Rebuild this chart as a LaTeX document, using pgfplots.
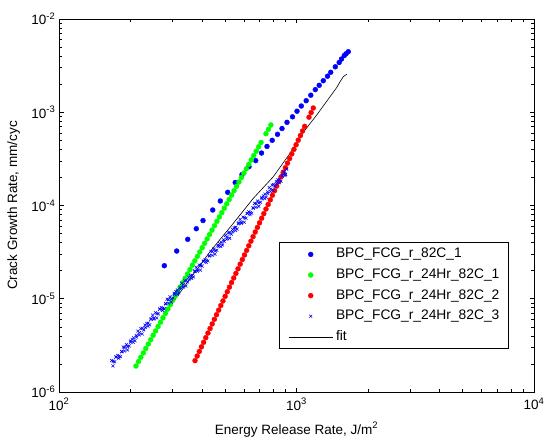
\documentclass[border=0pt]{standalone}
\usepackage{fontspec}
\setmainfont{Liberation Sans}
\usepackage{pgfplots}
\pgfplotsset{compat=1.18}
\pgfplotsset{
  mylegmark/.style={legend image code/.code={\path (0pt,0pt); \draw[mark repeat=2,mark phase=2,##1] plot coordinates {(3pt,0pt) (25pt,0pt) (47pt,0pt)};}},
  myleglin/.style={legend image code/.code={\path (0pt,0pt); \draw[##1] (3pt,0pt) -- (47pt,0pt);}},
}
\begin{document}
\begin{tikzpicture}
\useasboundingbox (0,0) rectangle (544pt,440pt);
\begin{axis}[
  at={(59pt,48pt)}, anchor=south west,
  scale only axis, width=475pt, height=373pt,
  xmode=log, ymode=log,
  xmin=100, xmax=10000, ymin=1e-6, ymax=1e-2,
  xtick={100,1000,10000},
  xticklabels={10\textsuperscript{2},10\textsuperscript{3},10\textsuperscript{4}},
  ytick={1e-6,1e-5,1e-4,1e-3,1e-2},
  yticklabels={10\textsuperscript{-6},10\textsuperscript{-5},10\textsuperscript{-4},10\textsuperscript{-3},10\textsuperscript{-2}},
  minor xtick={200,300,400,500,600,700,800,900,2000,3000,4000,5000,6000,7000,8000,9000},
  minor ytick={2e-6,3e-6,4e-6,5e-6,6e-6,7e-6,8e-6,9e-6,2e-5,3e-5,4e-5,5e-5,6e-5,7e-5,8e-5,9e-5,2e-4,3e-4,4e-4,5e-4,6e-4,7e-4,8e-4,9e-4,2e-3,3e-3,4e-3,5e-3,6e-3,7e-3,8e-3,9e-3},
  tick align=inside, xtick pos=both, ytick pos=both,
  major tick length=4.5pt, minor tick length=3pt,
  tick style={black, line width=0.6pt},
  axis line style={line width=0.8pt},
  tick label style={font=\fontsize{13.5}{16}\selectfont},
  xticklabel style={inner sep=0pt, yshift=-6pt},
  yticklabel style={inner sep=0pt, xshift=-3.5pt},
  xlabel={Energy Release Rate, J/m\textsuperscript{2}},
  ylabel={Crack Growth Rate, mm/cyc},
  label style={font=\fontsize{13.5}{16}\selectfont},
  xlabel style={at={(axis description cs:0.5,-0.1126)}, anchor=base, inner sep=0pt},
  ylabel style={at={(axis description cs:-0.0884,0.5)}, anchor=base, inner sep=0pt},
  legend cell align=left,
  legend style={at={(0.4632,0.4021)}, anchor=north west, draw=black, line width=0.8pt, fill=white,
    inner xsep=6pt, inner ysep=5.5pt, row sep=7.6pt, font=\fontsize{13.8}{16}\selectfont,
    nodes={inner xsep=3pt, inner ysep=0pt, text height=10pt, text depth=3pt}},
]
% BPC_FCG_r_82C_1
\addplot[color=blue, only marks, mark=*, mark size=2.5pt, line width=0.3pt, mylegmark] coordinates {
(277.6,2.262e-5) (313.0,3.25e-5) (348.3,4.34e-5) (378.6,5.64e-5) (404.0,6.90e-5) (443.9,8.95e-5)
(477.8,1.118e-4) (513.3,1.385e-4) (552.0,1.765e-4) (589.5,2.145e-4) (631.0,2.607e-4) (673.3,3.031e-4)
(712.3,3.656e-4) (751.3,4.30e-4) (790.2,5.00e-4) (831.8,5.80e-4) (868.8,6.69e-4) (912.0,7.80e-4)
(962.0,8.94e-4) (1004.9,1.026e-3) (1047.6,1.167e-3) (1098.5,1.330e-3) (1148.6,1.523e-3) (1200.0,1.749e-3)
(1246.2,1.945e-3) (1296.6,2.180e-3) (1350.5,2.435e-3) (1393.2,2.682e-3) (1456.8,3.072e-3) (1512.8,3.416e-3)
(1547,3.724e-3) (1589.7,4.061e-3) (1616,4.235e-3) (1652,4.46e-3)
};
\addlegendentry{BPC\_FCG\_r\_82C\_1}
% BPC_FCG_r_24Hr_82C_1
\addplot[color=green, only marks, mark=*, mark size=2.5pt, line width=0.3pt, mylegmark] coordinates {
(210.9,1.900e-6) (216.0,2.117e-6) (221.2,2.359e-6) (226.5,2.629e-6) (232.0,2.930e-6) (237.6,3.265e-6)
(243.3,3.638e-6) (249.1,4.054e-6) (255.1,4.517e-6) (261.3,5.034e-6) (267.6,5.609e-6) (274.0,6.250e-6)
(280.6,6.965e-6) (287.3,7.761e-6) (294.2,8.648e-6) (301.3,9.637e-6) (308.6,1.0739e-5) (316.0,1.1966e-5)
(323.6,1.3334e-5) (331.4,1.4858e-5) (339.4,1.6557e-5) (347.5,1.8449e-5) (355.9,2.0558e-5) (364.4,2.2908e-5)
(373.2,2.5527e-5) (382.2,2.8445e-5) (391.4,3.1696e-5) (400.8,3.5319e-5) (410.4,3.9357e-5) (420.3,4.3855e-5)
(430.4,4.8869e-5) (440.8,5.4455e-5) (451.4,6.0680e-5) (462.3,6.7616e-5) (473.4,7.5345e-5) (484.8,8.3957e-5)
(496.5,9.3554e-5) (508.4,1.0425e-4) (520.7,1.1617e-4) (533.2,1.2945e-4) (546.0,1.4424e-4) (559.2,1.6073e-4)
(572.6,1.7910e-4) (586.4,1.9958e-4) (600.5,2.2239e-4) (615.0,2.4781e-4) (629.8,2.7614e-4) (644.9,3.0771e-4)
(660.5,3.4288e-4) (676.4,3.8207e-4) (692.6,4.2575e-4) (709.3,4.7441e-4) (743.9,5.8907e-4) (761.8,6.5641e-4)
(780.1,7.3144e-4)
};
\addlegendentry{BPC\_FCG\_r\_24Hr\_82C\_1}
% BPC_FCG_r_24Hr_82C_2
\addplot[color=red, only marks, mark=*, mark size=2.5pt, line width=0.3pt, mylegmark] coordinates {
(373.9,2.170e-6) (381.8,2.431e-6) (389.8,2.723e-6) (398.0,3.050e-6) (406.4,3.416e-6) (415.0,3.826e-6)
(423.7,4.286e-6) (432.6,4.800e-6) (441.7,5.377e-6) (451.0,6.023e-6) (460.5,6.746e-6) (470.2,7.556e-6)
(480.1,8.464e-6) (490.2,9.480e-6) (500.6,1.0619e-5) (511.1,1.1894e-5) (521.9,1.3323e-5) (532.9,1.4923e-5)
(544.1,1.6715e-5) (555.6,1.8723e-5) (567.3,2.0971e-5) (579.2,2.3490e-5) (591.4,2.6311e-5) (603.9,2.9471e-5)
(616.6,3.3011e-5) (629.6,3.6975e-5) (642.9,4.1416e-5) (656.4,4.6390e-5) (670.2,5.1962e-5) (684.4,5.8202e-5)
(698.8,6.5192e-5) (713.5,7.3022e-5) (728.5,8.1792e-5) (743.9,9.1615e-5) (759.6,1.0262e-4) (775.6,1.1494e-4)
(791.9,1.2875e-4) (808.6,1.4421e-4) (825.6,1.6153e-4) (843.0,1.8093e-4) (860.8,2.0266e-4) (878.9,2.2700e-4)
(897.4,2.5426e-4) (916.3,2.8480e-4) (935.6,3.1900e-4) (955.3,3.5731e-4) (975.5,4.0023e-4) (996.0,4.4830e-4)
(1017.0,5.0214e-4) (1038.4,5.6244e-4) (1060.3,6.2999e-4) (1082.6,7.0565e-4) (1128.7,8.8533e-4) (1152.5,9.9166e-4)
(1176.8,1.1108e-3)
};
\addlegendentry{BPC\_FCG\_r\_24Hr\_82C\_2}
% BPC_FCG_r_24Hr_82C_3
\addplot[color=blue, only marks, mark=x, mark size=2.1pt, line width=0.55pt, mylegmark] coordinates {
(166.7,2.173e-6) (168.7,1.907e-6) (171.5,2.107e-6) (173.6,2.373e-6) (176.4,2.472e-6) (178.5,2.304e-6)
(181.4,2.389e-6) (183.6,2.727e-6) (186.6,3.035e-6) (188.8,2.754e-6) (192.0,3.222e-6) (194.3,2.827e-6)
(197.5,3.125e-6) (199.9,3.519e-6) (203.2,3.666e-6) (205.6,3.417e-6) (209.0,3.543e-6) (211.5,4.044e-6)
(215.0,4.499e-6) (217.6,4.083e-6) (221.2,4.778e-6) (223.9,4.192e-6) (227.5,4.633e-6) (230.2,5.218e-6)
(234.1,5.435e-6) (236.9,5.066e-6) (240.8,5.253e-6) (243.7,5.996e-6) (247.7,6.672e-6) (250.7,6.054e-6)
(254.8,7.085e-6) (257.9,6.216e-6) (262.1,6.870e-6) (265.2,7.738e-6) (269.6,8.060e-6) (272.8,7.512e-6)
(277.4,7.789e-6) (280.7,8.889e-6) (285.3,9.893e-6) (288.7,8.977e-6) (293.5,1.0506e-5) (297.0,9.217e-6)
(301.9,1.0187e-5) (305.5,1.1474e-5) (310.6,1.1950e-5) (314.3,1.1138e-5) (319.5,1.1549e-5) (323.3,1.3181e-5)
(328.7,1.4669e-5) (332.6,1.3310e-5) (338.1,1.5578e-5) (342.2,1.3667e-5) (347.8,1.5106e-5) (352.0,1.7014e-5)
(357.8,1.7720e-5) (362.1,1.6516e-5) (368.0,1.7125e-5) (372.4,1.9545e-5) (378.6,2.1751e-5) (383.1,1.9737e-5)
(389.4,2.3098e-5) (394.1,2.0266e-5) (400.6,2.2398e-5) (405.4,2.5227e-5) (412.1,2.6275e-5) (417.0,2.4490e-5)
(423.9,2.5393e-5) (429.0,2.8981e-5) (436.1,3.2253e-5) (441.3,2.9267e-5) (448.6,3.4251e-5) (454.0,3.0050e-5)
(461.5,3.3213e-5) (467.0,3.7408e-5) (474.7,3.8962e-5) (480.4,3.6314e-5) (488.3,3.7654e-5) (494.2,4.2974e-5)
(502.3,4.7826e-5) (508.3,4.3397e-5) (516.7,5.0788e-5) (522.9,4.4559e-5) (531.6,4.9249e-5) (538.0,5.5470e-5)
(546.8,5.7774e-5) (553.4,5.3847e-5) (562.5,5.5834e-5) (569.3,6.3723e-5) (578.6,7.0917e-5) (585.5,6.4351e-5)
(595.2,7.5310e-5) (602.3,6.6074e-5) (612.3,7.3027e-5) (619.6,8.2252e-5) (629.9,8.5668e-5) (637.5,7.9846e-5)
(647.9,8.2792e-5) (655.7,9.4491e-5) (666.5,1.0516e-4) (674.5,9.5421e-5) (685.6,1.1167e-4) (693.8,9.798e-5)
(705.3,1.0829e-4) (713.8,1.2197e-4) (725.5,1.2703e-4) (734.2,1.1840e-4) (746.3,1.2276e-4) (755.3,1.4011e-4)
(767.7,1.5593e-4) (776.9,1.4149e-4) (789.7,1.6559e-4) (799.2,1.4528e-4) (812.4,1.6057e-4) (822.1,1.8085e-4)
(835.7,1.8837e-4) (845.7,1.7556e-4) (859.7,1.8204e-4) (870.0,2.0776e-4) (884.4,2.3122e-4) (895.0,2.0981e-4)
(909.7,2.4554e-4) (900.0,2.1543e-4)
(169.1,2.132e-6) (174.0,2.376e-6) (178.9,2.421e-6) (184.0,2.701e-6) (189.3,3.011e-6) (194.7,3.067e-6)
(200.3,3.421e-6) (206.1,3.813e-6) (212.0,3.886e-6) (218.1,4.333e-6) (224.4,4.830e-6) (230.8,4.921e-6)
(237.4,5.489e-6) (244.2,6.118e-6) (251.2,6.233e-6) (258.4,6.953e-6) (265.8,7.749e-6) (273.5,7.895e-6)
(281.4,8.806e-6) (289.4,9.814e-6) (297.7,1.0000e-5) (306.2,1.1154e-5) (315.0,1.2430e-5) (324.1,1.2666e-5)
(333.4,1.4128e-5) (342.9,1.5745e-5) (352.8,1.6044e-5) (362.9,1.7896e-5) (373.3,1.9943e-5) (384.0,2.0322e-5)
(395.0,2.2667e-5) (406.3,2.5261e-5) (418.0,2.5740e-5) (430.0,2.8711e-5) (442.3,3.1997e-5) (455.0,3.2603e-5)
(468.1,3.6366e-5) (481.5,4.0528e-5) (495.3,4.1296e-5) (509.5,4.6063e-5) (524.1,5.1334e-5) (539.2,5.2307e-5)
(554.6,5.8346e-5) (570.5,6.5023e-5) (586.9,6.6255e-5) (603.7,7.3903e-5) (621.1,8.2360e-5) (638.9,8.3921e-5)
(657.2,9.3609e-5) (676.0,1.0432e-4) (695.4,1.0630e-4) (715.4,1.1857e-4) (735.9,1.3214e-4) (757.0,1.3464e-4)
(778.7,1.5018e-4) (801.0,1.6738e-4) (824.0,1.7054e-4) (847.6,1.9023e-4) (872.0,2.1200e-4) (897.0,2.1602e-4)
};
\addlegendentry{BPC\_FCG\_r\_24Hr\_82C\_3}
% fit
\addplot[black, line width=0.6pt, no marks, myleglin] coordinates {
(279.5,6.98e-6) (345.0,1.464e-5) (432.3,3.196e-5) (541.9,6.44e-5) (657.9,1.194e-4) (798.6,2.036e-4)
(938.9,3.629e-4) (1085.9,6.45e-4) (1216.7,9.34e-4) (1383.8,1.468e-3) (1476.7,1.842e-3) (1525.4,2.127e-3)
(1574.2,2.405e-3) (1631.5,2.571e-3)
};
\addlegendentry{fit}
\end{axis}
\end{tikzpicture}
\end{document}
